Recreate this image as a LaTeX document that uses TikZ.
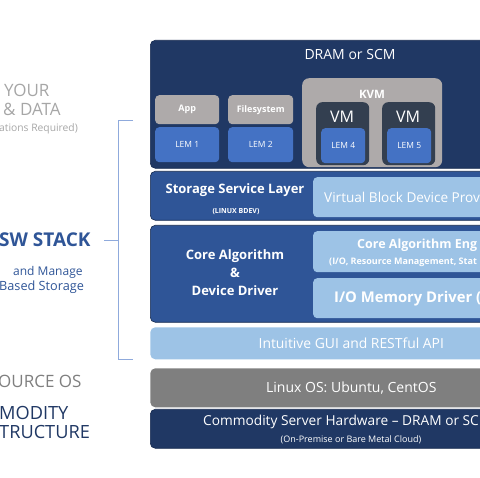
\documentclass[tikz,border=0pt]{standalone}
\usepackage{fontspec}
\setmainfont{Open Sans}
\usetikzlibrary{positioning}

\definecolor{navy}{HTML}{203864}
\definecolor{navyline}{HTML}{172B50}
\definecolor{midblue}{HTML}{2F5597}
\definecolor{lightblue}{HTML}{9DC3E6}
\definecolor{lemblue}{HTML}{4472C4}
\definecolor{boxgray}{HTML}{AEAAAA}
\definecolor{vmdark}{HTML}{333F50}
\definecolor{osgray}{HTML}{7F7F7F}
\definecolor{bracketblue}{HTML}{8FAADC}
\definecolor{leftgray}{HTML}{A6A6A6}

\newcommand{\fs}[1]{\fontsize{#1}{#1}\selectfont}

\tikzset{
  band/.style={rounded corners=5pt, anchor=north west, inner sep=0pt, line width=0.6pt},
  smallbox/.style={rounded corners=4pt, anchor=north west, inner sep=0pt, text=white},
  wtxt/.style={text=white, inner sep=0pt},
  lefttxt/.style={anchor=west, inner sep=0pt},
  bracket/.style={draw=bracketblue, line width=0.8pt}
}

\begin{document}
\begin{tikzpicture}[x=1pt, y=-1pt]
\useasboundingbox (0,0) rectangle (480,478);
\clip (0,0) rectangle (480,478);

% Left labels
\node[lefttxt, text=leftgray, font=\fs{17}] (your) at (4,90) {YOUR};
\node[lefttxt, text=leftgray, font=\fs{17}] (data) at (3,109) {\& DATA};
\node[lefttxt, text=leftgray, font=\fs{10.3}] (noinfo) at (-1,129) {ations Required)};
\node[lefttxt, text=midblue, font=\bfseries\fs{19}] (swstack) at (-1,240) {SW STACK};
\node[lefttxt, text=midblue, font=\fs{12}] (manage) at (13,272) {and Manage};
\node[lefttxt, text=midblue, font=\fs{12.7}] (based) at (-1,287) {Based Storage};
\node[lefttxt, text=osgray, font=\fs{17}] (osrc) at (-2,381) {OURCE OS};
\node[lefttxt, text=navy, font=\fs{18.2}] (cmod) at (-1,413) {MODITY};
\node[lefttxt, text=navy, font=\fs{18.2}] (infra) at (-1,432) {TRUCTURE};

% Bracket
\coordinate (brtop) at (133,120);
\coordinate (brbot) at (133,359);
\coordinate (brmid) at (118,240);
\coordinate (brtip) at (104,240);
\draw[bracket] (brtop) -- (118,120) -- (118,359) -- (brbot);
\draw[bracket] (brmid) -- (brtip);

% DRAM or SCM
\node[band, fill=navy, draw=navyline, minimum width=402pt, minimum height=128pt] (dram) at (150,40) {};
\node[wtxt, font=\fs{14}] (dramlabel) at (350,55) {DRAM or SCM};

\node[smallbox, fill=boxgray, minimum width=64pt, minimum height=29pt, font=\bfseries\fs{9}] (appbox) at (155,95) {App};
\node[smallbox, fill=lemblue, minimum width=64pt, minimum height=35pt, font=\fs{8.5}] (lemone) at (155,127) {LEM 1};
\node[smallbox, fill=boxgray, minimum width=65pt, minimum height=29pt, font=\bfseries\fs{9}] (fsbox) at (228,95) {Filesystem};
\node[smallbox, fill=lemblue, minimum width=65pt, minimum height=35pt, font=\fs{8.5}] (lemtwo) at (228,127) {LEM 2};

% KVM
\node[smallbox, rounded corners=7pt, fill=boxgray, minimum width=140pt, minimum height=89pt] (kvm) at (302,78) {};
\node[wtxt, font=\bfseries\fs{11.5}] (kvmlabel) at (372,94) {KVM};
\node[smallbox, rounded corners=6pt, fill=vmdark, minimum width=53pt, minimum height=63pt] (vmone) at (316,102) {};
\node[wtxt, font=\fs{16}] (vmonelabel) at (342,117) {VM};
\node[smallbox, fill=lemblue, minimum width=44pt, minimum height=35pt, font=\fs{8.5}] (lemfour) at (321,128) {LEM 4};
\node[smallbox, rounded corners=6pt, fill=vmdark, minimum width=53pt, minimum height=63pt] (vmtwo) at (382,102) {};
\node[wtxt, font=\fs{16}] (vmtwolabel) at (408,117) {VM};
\node[smallbox, fill=lemblue, minimum width=44pt, minimum height=35pt, font=\fs{8.5}] (lemfive) at (387,128) {LEM 5};

% Storage Service Layer
\node[band, fill=midblue, draw=navyline, minimum width=402pt, minimum height=49pt] (storage) at (150,171) {};
\node[wtxt, font=\bfseries\fs{13}] (storagelabel) at (235,190) {Storage Service Layer};
\node[wtxt, font=\bfseries\fs{7}] (bdev) at (236,212) {(LINUX BDEV)};
\node[smallbox, fill=lightblue, minimum width=240pt, minimum height=40pt] (vbdp) at (313,177) {};
\node[wtxt, lefttxt, font=\fs{13.6}] (vbdplabel) at (324,197) {Virtual Block Device Prov};

% Core Algorithm & Device Driver
\node[band, fill=midblue, draw=navyline, minimum width=402pt, minimum height=97pt] (corealg) at (150,225) {};
\node[wtxt, font=\bfseries\fs{13}] (corelabel) at (235,256) {Core Algorithm};
\node[wtxt, font=\bfseries\fs{13}] (amplabel) at (235,273) {\&};
\node[wtxt, font=\bfseries\fs{13}] (drvlabel) at (235,291) {Device Driver};
\node[smallbox, fill=lightblue, minimum width=240pt, minimum height=41pt] (coreeng) at (313,231) {};
\node[wtxt, lefttxt, font=\bfseries\fs{12.5}] (coreenglabel) at (357,245) {Core Algorithm Eng};
\node[wtxt, lefttxt, font=\bfseries\fs{9}] (coreengsub) at (329,262) {(I/O, Resource Management, Stat};
\node[smallbox, fill=lightblue, minimum width=240pt, minimum height=40pt] (iomem) at (313,278) {};
\node[wtxt, lefttxt, font=\bfseries\fs{14.8}] (iomemlabel) at (334,299) {I/O Memory Driver (I};

% GUI, OS, hardware
\node[band, fill=lightblue, minimum width=402pt, minimum height=32pt, text=white, font=\fs{13.9}] (gui) at (150,327) {Intuitive GUI and RESTful API};
\node[band, fill=osgray, minimum width=402pt, minimum height=39pt, text=white, font=\fs{14}] (linuxos) at (150,368) {Linux OS: Ubuntu, CentOS};
\node[band, fill=navy, draw=navyline, minimum width=402pt, minimum height=39pt] (hardware) at (150,409) {};
\node[wtxt, lefttxt, font=\fs{13.7}] (hwlabel) at (203,422) {Commodity Server Hardware -- DRAM or SC};
\node[wtxt, font=\fs{9}] (hwsub) at (351,440) {(On-Premise or Bare Metal Cloud)};
\end{tikzpicture}
\end{document}
